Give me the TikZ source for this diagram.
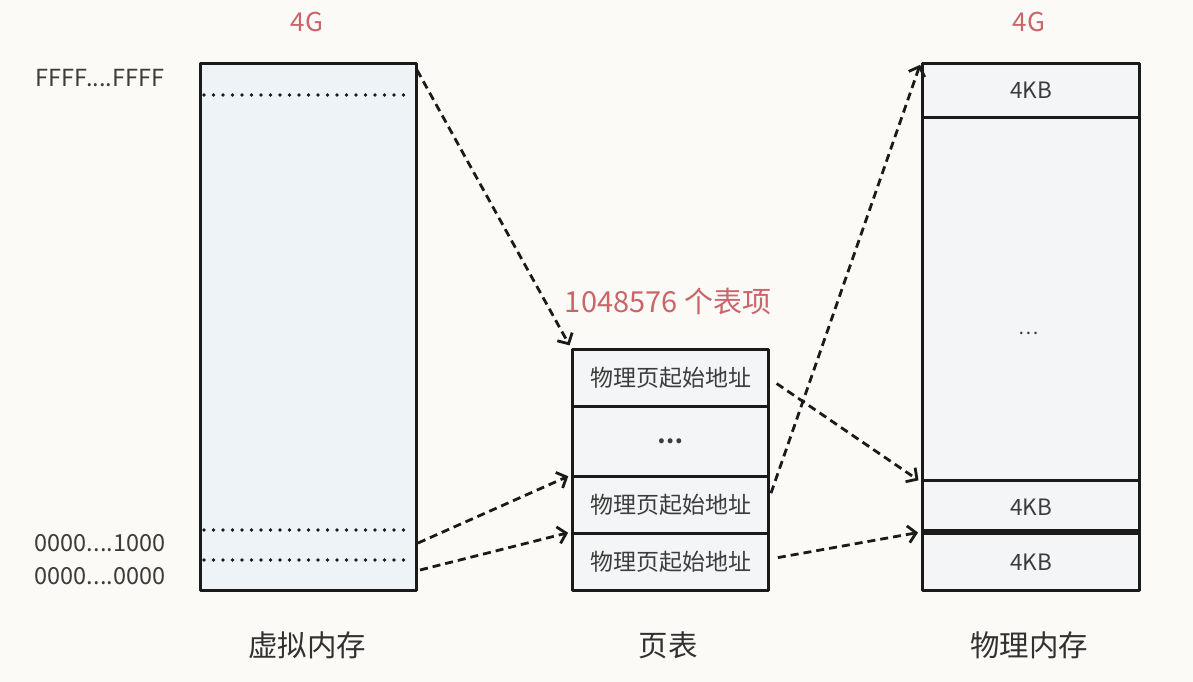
\documentclass[tikz,border=0pt]{standalone}
\usepackage{fontspec}
\setmainfont{Noto Sans CJK SC}
\usetikzlibrary{arrows.meta}
\definecolor{sizered}{HTML}{C9666B}
\definecolor{vmfill}{HTML}{EEF3F8}
\definecolor{cellfill}{HTML}{F4F5F6}
\definecolor{paper}{HTML}{FBFAF7}
\definecolor{ink}{HTML}{1A1A1A}
\begin{document}
\begin{tikzpicture}[x=1pt,y=-1pt,line join=round]
  \tikzset{box/.style={draw=ink,line width=3pt,inner sep=0pt,anchor=north west,fill=cellfill,minimum width=196pt},
    cell/.style={box,minimum width=217pt,font=\fontsize{22.5}{22.5}\selectfont,text=ink!85},
    entry/.style={box,font=\fontsize{23}{23}\selectfont,text=ink!85},
    addr/.style={font=\fontsize{23.5}{23.5}\selectfont,text=ink!85},
    size/.style={text=sizered,font=\fontsize{26}{26}\selectfont},
    title/.style={font=\fontsize{29.5}{29.5}\selectfont,text=ink!90},
    dotline/.style={line width=3.6pt,line cap=round,dash pattern=on 0pt off 9.5pt,draw=ink},
    link/.style={line width=2.8pt,dash pattern=on 8pt off 5pt,draw=ink,-{Straight Barb[length=8pt,width=17pt,line width=2.8pt]}}}
  \fill[paper] (0,0) rectangle (1193,682);
  % virtual memory
  \node[box,fill=vmfill,minimum width=216pt,minimum height=527pt] (vm) at (199,62) {};
  \draw[dotline] (204,95) -- (411,95);
  \draw[dotline] (204,530) -- (411,530);
  \draw[dotline] (204,560) -- (411,560);
  \node[addr] (hi) at (100,78) {FFFF....FFFF};
  \node[addr] (mid) at (100,543) {0000....1000};
  \node[addr] (lo) at (100,576) {0000....0000};
  \node[size] (vmsize) at (307,22) {4G};
  \node[title] (vmname) at (307,645) {虚拟内存};
  % page table
  \node[entry,minimum height=57pt] (pte1) at (571,348) {物理页起始地址};
  \node[entry,minimum height=70pt,font=\bfseries\fontsize{23}{23}\selectfont] (ptedots) at (571,405) {…};
  \node[entry,minimum height=57pt] (pte2) at (571,475) {物理页起始地址};
  \node[entry,minimum height=57pt] (pte3) at (571,532) {物理页起始地址};
  \node[size,font=\fontsize{29}{29}\selectfont] (ptcount) at (668,301) {1048576 个表项};
  \node[title] (ptname) at (668,645) {页表};
  % physical memory
  \node[cell,minimum height=54pt] (pm1) at (921,62) {4KB};
  \node[cell,minimum height=363pt] (pmdots) at (921,116) {};
  \node[font=\fontsize{19}{19}\selectfont,text=ink!85] (pmdotstext) at (1029,333) {…};
  \node[cell,minimum height=53pt] (pm2) at (921,479) {4KB};
  \node[cell,minimum height=57pt] (pm3) at (921,532) {4KB};
  \draw[line width=5.5pt,draw=ink] (pm3.north west) -- (pm3.north east);
  \node[size] (pmsize) at (1029,22) {4G};
  \node[title] (pmname) at (1029,645) {物理内存};
  % links
  \coordinate (vtop) at (417,70);
  \coordinate (vmid) at (418,543);
  \coordinate (vlo) at (420,570);
  \draw[link,shorten >=3pt] (vtop) -- (pte1.north west);
  \draw[link,shorten >=3pt] (vmid) -- (pte2.north west);
  \draw[link,shorten >=3pt] (vlo) -- (pte3.north west);
  \draw[link,shorten <=8pt,shorten >=3pt] ([yshift=-1pt]pte1.east) -- (pmdots.south west);
  \draw[link,shorten <=3pt,shorten >=3pt] ([yshift=9pt]pte2.east) -- (pm1.north west);
  \draw[link,shorten <=8pt,shorten >=3pt] ([yshift=3pt]pte3.east) -- (pm3.north west);
\end{tikzpicture}
\end{document}
